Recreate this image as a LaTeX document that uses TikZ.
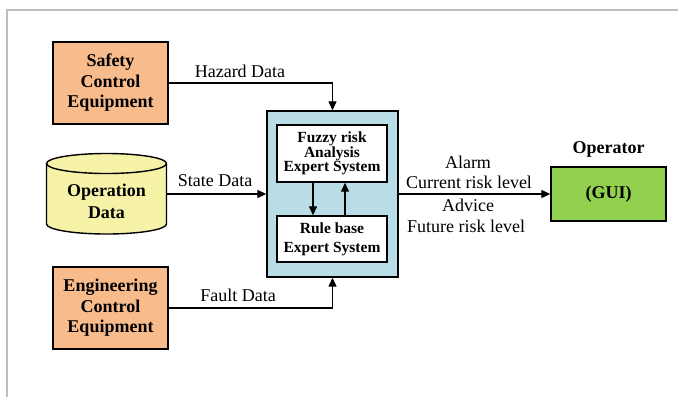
\documentclass[tikz,border=0pt]{standalone}
\usepackage{fontspec}
\setmainfont{Liberation Serif}
\usepackage{tikz}
\usetikzlibrary{arrows.meta,positioning,calc}
\definecolor{peach}{HTML}{F8BB8C}
\definecolor{paleyellow}{HTML}{F6F3A9}
\definecolor{paleblue}{HTML}{B8DDE7}
\definecolor{guigreen}{HTML}{92D050}
\definecolor{framegray}{HTML}{BDBDBD}

\begin{document}
\begin{tikzpicture}[x=1pt,y=-1pt,
    every node/.style={font=\fontsize{18}{20.5}\selectfont, inner sep=0pt},
    equip/.style={draw, line width=1.4pt, fill=peach, minimum width=115pt,
                  minimum height=82pt, align=center, font=\fontsize{18}{20.5}\selectfont\bfseries},
    expert/.style={draw, line width=1.4pt, fill=white, minimum width=110pt, align=center},
    flow/.style={line width=1.3pt, -{Triangle[length=9pt,width=8pt]}}]
  \useasboundingbox (0,0) rectangle (678,397);
  % frame
  \draw[framegray, line width=1.5pt] (7,397) -- (7,10) -- (678,10);

  % Inputs
  \node[equip] (SCE) at (110.5,83) {Safety\\Control\\Equipment};
  \node[equip] (ECE) at (110.5,308) {Engineering\\Control\\Equipment};

  % Operation data store (cylinder)
  \draw[line width=1.4pt, fill=paleyellow]
    (46.5,163.5) -- (46.5,224) arc[start angle=180, end angle=0, x radius=60, y radius=10]
    -- (166.5,163.5) arc[start angle=0, end angle=-180, x radius=60, y radius=10];
  \draw[line width=1.4pt] (46.5,163.5) arc[start angle=180, end angle=0, x radius=60, y radius=10];
  \node[align=center, font=\fontsize{18}{22}\selectfont\bfseries] (OD) at (106.5,201) {Operation\\Data};
  \coordinate (ODe) at (166.5,194);

  % Expert system block
  \node[draw, line width=1.4pt, fill=paleblue, minimum width=131pt, minimum height=166pt] (ES) at (332.5,194) {};
  \node[expert, minimum height=57pt, font=\fontsize{15.5}{14.5}\selectfont\bfseries] (FR) at (332,153.5) {Fuzzy risk\\Analysis\\Expert System};
  \node[expert, minimum height=46pt, font=\fontsize{15.5}{19}\selectfont\bfseries] (RB) at (332,239) {Rule base\\Expert System};
  \draw[flow] (FR.south -| 313,0) -- (RB.north -| 313,0);
  \draw[flow] (RB.north -| 345,0) -- (FR.south -| 345,0);

  % Data flows
  \draw[flow] (SCE.east) -- (SCE.east -| ES.north) -- (ES.north);
  \node (hz) at (240,71) {Hazard Data};
  \draw[flow] (ODe) -- (ODe -| ES.west);
  \node (sd) at (215,181) {State Data};
  \draw[flow] (ECE.east) -- (ECE.east -| ES.south) -- (ES.south);
  \node (fd) at (238,295) {Fault Data};

  % Output
  \node[draw, line width=1.4pt, fill=guigreen, minimum width=115pt, minimum height=54pt,
        font=\fontsize{18}{20.5}\selectfont\bfseries] (GUI) at (608.5,194) {(GUI)};
  \node[font=\fontsize{18}{20.5}\selectfont\bfseries, above=9pt of GUI] (op) {Operator};
  \draw[flow] (ES.east) -- (GUI.west);
  \node (al) at (468,162) {Alarm};
  \node (cr) at (469,182) {Current risk level};
  \node (ad) at (468,205) {Advice};
  \node (fu) at (466,226) {Future risk level};
\end{tikzpicture}
\end{document}
